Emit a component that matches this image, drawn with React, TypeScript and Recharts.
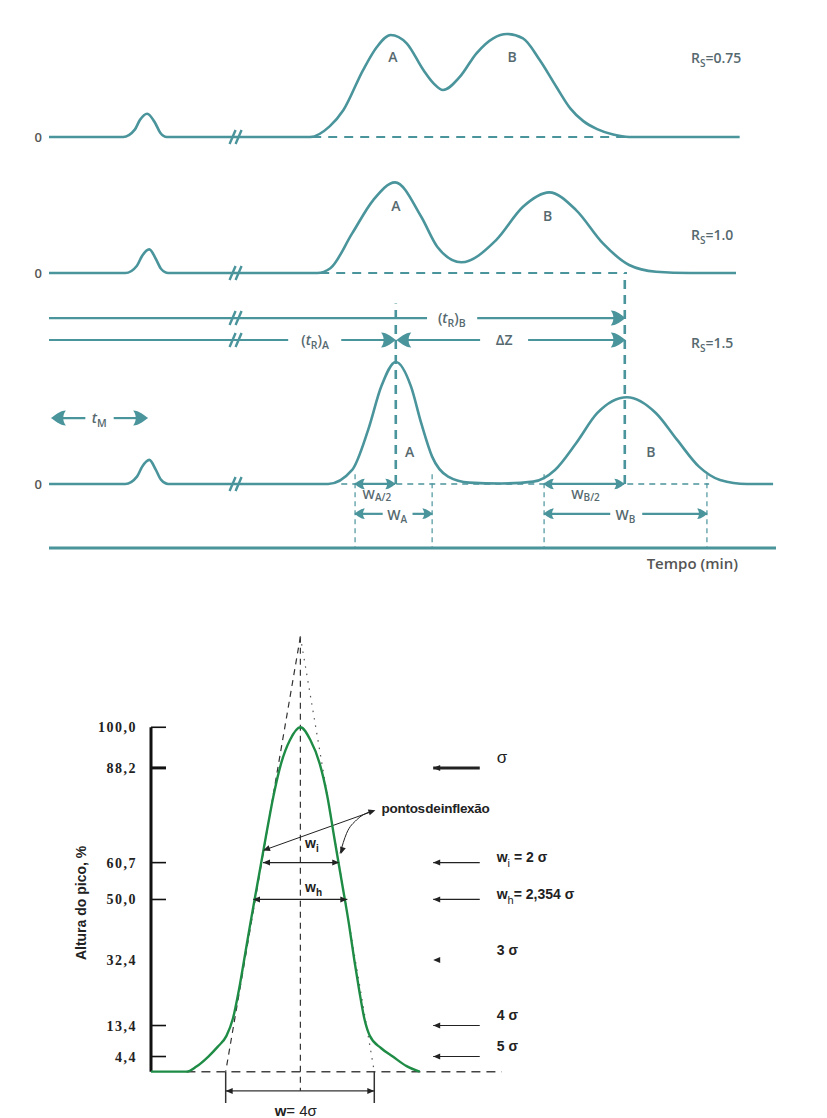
import React from "react";
import { ComposedChart, Line, XAxis, YAxis, ReferenceLine, ReferenceDot } from "recharts";

const TEAL = "#4a949c";
const INK = "#56696f";
const GREEN = "#1f8c46";
const LABEL = "'Open Sans', 'DejaVu Sans', sans-serif";
const SANS = "'Liberation Sans', Arial, sans-serif";
const SERIF = "'Liberation Serif', 'Times New Roman', serif";

// chromatograms: time 0-100 (arbitrary), signal with peak A at Rs=1.5 = 100
const rs075 = [
  { t: 0, h: 0 }, { t: 10.2, h: 0 }, { t: 11.8, h: 6 }, { t: 12.5, h: 13.9 }, { t: 13.5, h: 19.1 },
  { t: 14.6, h: 11.5 }, { t: 15.3, h: 3.5 }, { t: 16.2, h: 0 }, { t: 35.9, h: 0 }, { t: 38.6, h: 8.7 },
  { t: 40.5, h: 22.1 }, { t: 43.2, h: 54.9 }, { t: 45.1, h: 73.8 }, { t: 47.0, h: 83.6 }, { t: 49.2, h: 76.8 },
  { t: 51.5, h: 54.9 }, { t: 52.9, h: 44 }, { t: 54.2, h: 38.5 }, { t: 56.5, h: 49.2 }, { t: 58.8, h: 68.6 },
  { t: 61.1, h: 80.9 }, { t: 63.0, h: 84.4 }, { t: 65.2, h: 80.9 }, { t: 67.5, h: 63.1 }, { t: 69.8, h: 41 },
  { t: 71.7, h: 23.5 }, { t: 73.5, h: 13 }, { t: 75.4, h: 6.5 }, { t: 77.6, h: 2 }, { t: 79.8, h: 0 },
  { t: 95, h: 0 },
];
const rs10 = [
  { t: 0, h: 0 }, { t: 10.5, h: 0 }, { t: 12.1, h: 6 }, { t: 12.8, h: 14 }, { t: 13.8, h: 19.4 },
  { t: 14.7, h: 11.5 }, { t: 15.4, h: 3.5 }, { t: 16.4, h: 0 }, { t: 36.9, h: 0 }, { t: 38.7, h: 3.9 },
  { t: 41.7, h: 32.5 }, { t: 44.6, h: 59.8 }, { t: 47.6, h: 74.3 }, { t: 51.2, h: 46.1 }, { t: 53.4, h: 21.6 },
  { t: 56.7, h: 8.8 }, { t: 61.5, h: 27 }, { t: 65.2, h: 54.3 }, { t: 68.8, h: 66.1 }, { t: 72.5, h: 51.6 },
  { t: 76.2, h: 24.3 }, { t: 79.8, h: 6.6 }, { t: 83.5, h: 1.1 }, { t: 88.2, h: 0 }, { t: 94.5, h: 0 },
];
const rs15 = [
  { t: 0, h: 0 }, { t: 10.5, h: 0 }, { t: 12.1, h: 6 }, { t: 12.8, h: 14 }, { t: 13.8, h: 19.7 },
  { t: 14.7, h: 11.5 }, { t: 15.4, h: 3.5 }, { t: 16.4, h: 0 }, { t: 38.4, h: 0 }, { t: 41.7, h: 11.5 },
  { t: 43.9, h: 44.3 }, { t: 45.7, h: 79.8 }, { t: 47.7, h: 100 }, { t: 49.8, h: 79.8 }, { t: 51.2, h: 49.8 },
  { t: 52.7, h: 22.4 }, { t: 54.9, h: 6 }, { t: 57.8, h: 1.1 }, { t: 62.2, h: 0.4 }, { t: 66.6, h: 1.9 },
  { t: 69.6, h: 11.5 }, { t: 72.5, h: 33.4 }, { t: 75.4, h: 58 }, { t: 79.5, h: 71.1 }, { t: 83.5, h: 58 },
  { t: 86.4, h: 36.1 }, { t: 89.4, h: 14.2 }, { t: 92.3, h: 3.3 }, { t: 96, h: 0 }, { t: 99.6, h: 0 },
];

// retention marks (same time units)
const tM = 13.5;
const tA = 47.7;
const tB = 79.2;
const widthA = [42.1, 52.7];
const widthB = [68.1, 90.5];

// gaussian peak: x in sigma, height in %
const gaussPeak = [
  { s: -3.88, p: 0 }, { s: -2.96, p: 0 }, { s: -2.7, p: 1.5 }, { s: -2.39, p: 4.4 }, { s: -2.15, p: 7.2 },
  { s: -1.92, p: 10.4 }, { s: -1.75, p: 15.5 }, { s: -1.6, p: 23.5 }, { s: -1.46, p: 32.5 }, { s: -1.3, p: 43 },
  { s: -1.1, p: 55.5 }, { s: -0.9, p: 68 }, { s: -0.7, p: 80 }, { s: -0.5, p: 89.5 }, { s: -0.27, p: 96.3 },
  { s: 0, p: 100 }, { s: 0.26, p: 96.3 }, { s: 0.5, p: 89.5 }, { s: 0.7, p: 80 }, { s: 0.88, p: 68 },
  { s: 1.07, p: 55.5 }, { s: 1.26, p: 43 }, { s: 1.4, p: 32.5 }, { s: 1.53, p: 23.5 }, { s: 1.66, p: 15.5 },
  { s: 1.8, p: 10.5 }, { s: 2.1, p: 6.8 }, { s: 2.4, p: 4.4 }, { s: 2.76, p: 1.6 }, { s: 3.1, p: 0 },
];
const inflexCurve = [
  { s: 1.03, p: 63.4 }, { s: 1.2, p: 69.2 }, { s: 1.46, p: 73.1 }, { s: 1.81, p: 75.5 },
];
const pctTicks = [100, 88.2, 60.7, 50, 32.4, 13.4, 4.4];
const sigmaLevels = [88.2, 60.7, 50, 13.4, 4.4];
const sigmaNotes = [
  { p: 88.2, w: "", sub: "", rest: "σ" },
  { p: 60.7, w: "w", sub: "i", rest: " = 2 σ" },
  { p: 50, w: "w", sub: "h", rest: "= 2,354 σ" },
  { p: 32.4, w: "", sub: "", rest: "3 σ" },
  { p: 13.4, w: "", sub: "", rest: "4 σ" },
  { p: 4.4, w: "", sub: "", rest: "5 σ" },
];

type P = { x: number; y: number };
type Draw = (cx: number, cy: number) => React.ReactNode;

function seg(key: string, a: P, b: P, axis: string | number, stroke: string, w: number, dash?: string) {
  return (
    <ReferenceLine key={key} yAxisId={axis} segment={[a, b]} stroke={stroke} strokeWidth={w}
      strokeDasharray={dash} ifOverflow="visible" />
  );
}
function mark(key: string, x: number, y: number, axis: string | number, draw: Draw) {
  return (
    <ReferenceDot key={key} x={x} y={y} yAxisId={axis} r={0} ifOverflow="visible"
      shape={(p: any) => <g>{draw(p.cx, p.cy)}</g>} />
  );
}
const tealHead = (angle: number, s = 1): Draw => (cx, cy) => (
  <path transform={`translate(${cx},${cy}) rotate(${angle}) scale(${s})`}
    d="M1,0 C-3,-2.5 -8,-7.5 -14,-7.5 C-10.5,-3 -10.5,3 -14,7.5 C-8,7.5 -3,2.5 1,0 Z" fill={TEAL} />
);
const blackHead = (angle: number): Draw => (cx, cy) => (
  <path transform={`translate(${cx},${cy}) rotate(${angle})`} d="M0,0 L-7,-3 L-7,3 Z" fill="#222" />
);
const breakMark: Draw = (cx, cy) => (
  <path d={`M${cx - 7},${cy + 7} L${cx - 1},${cy - 7} M${cx - 1},${cy + 7} L${cx + 5},${cy - 7}`}
    stroke={TEAL} strokeWidth={2.4} fill="none" />
);
const tt = (node: React.ReactNode, anchor: "start" | "middle" | "end" = "middle", size = 14, fill = INK): Draw =>
  (cx, cy) => (
    <text x={cx} y={cy} dy={size * 0.35} textAnchor={anchor} fontFamily={LABEL} fontWeight={600}
      fontSize={size} fill={fill}>
      {node}
    </text>
  );
const sub = (main: string, s: string, after = "", drop = 4) => (
  <>
    <tspan>{main}</tspan>
    <tspan dy={drop} fontSize={10}>{s}</tspan>
    {after ? <tspan dy={-drop}>{after}</tspan> : null}
  </>
);
const tR = (peak: string) => (
  <>
    <tspan>(</tspan>
    <tspan fontStyle="italic">t</tspan>
    <tspan dy={4} fontSize={10.5}>R</tspan>
    <tspan dy={-4}>)</tspan>
    <tspan dy={4} fontSize={10.5}>{peak}</tspan>
  </>
);

const PctTick = (props: any) => {
  const { x, y, payload } = props;
  const v = payload.value as number;
  const w = v === 88.2 ? 3 : 1.6;
  return (
    <g>
      {v !== 32.4 && <line x1={x} x2={x + 15} y1={y} y2={y} stroke="#111" strokeWidth={w} />}
      <text x={x - 14} y={y} dy={5} textAnchor="end" fontFamily={SERIF} fontWeight="bold"
        fontSize={14} letterSpacing={1.5} fill="#222">
        {v.toFixed(1).replace(".", ",")}
      </text>
    </g>
  );
};

const zeroLabel = tt("0", "middle", 13, "#555");

const Chromatograms = () => (
  <ComposedChart width={827} height={600} margin={{ top: 15, right: 51, bottom: 22, left: 49 }}>
    <XAxis type="number" dataKey="t" domain={[0, 100]} allowDataOverflow tick={false} tickLine={false}
      height={30} axisLine={{ stroke: TEAL, strokeWidth: 3 }}
      label={{
        content: (p: any) => (
          <text x={p.viewBox.x + p.viewBox.width - 38} y={p.viewBox.y + 21} textAnchor="end"
            fontFamily={LABEL} fontSize={15} fontWeight={600} fill="#555">
            Tempo (min)
          </text>
        ),
      }} />
    <YAxis yAxisId="rs075" type="number" domain={[-336.9, 100]} allowDataOverflow width={0}
      tick={false} tickLine={false} axisLine={{ stroke: TEAL, strokeWidth: 3 }} />
    <YAxis yAxisId="rs10" type="number" domain={[-225.4, 211.5]} allowDataOverflow width={0}
      tick={false} tickLine={false} axisLine={false} />
    <YAxis yAxisId="rs15" type="number" domain={[-52.5, 384.4]} allowDataOverflow width={0}
      tick={false} tickLine={false} axisLine={false} />

    {mark("z1", -1.5, 0, "rs075", zeroLabel)}
    {mark("z2", -1.5, 0, "rs10", zeroLabel)}
    {mark("z3", -1.5, 0, "rs15", zeroLabel)}

    {seg("b1", { x: 29.6, y: 0 }, { x: 79.8, y: 0 }, "rs075", TEAL, 2, "9 7")}
    {seg("b2", { x: 28.5, y: 0 }, { x: 79.5, y: 0 }, "rs10", TEAL, 2, "9 7")}
    {seg("b3", { x: 40.2, y: 0 }, { x: 90.8, y: 0 }, "rs15", TEAL, 1.5, "6 5")}
    {seg("va", { x: tA, y: 0 }, { x: tA, y: 148 }, "rs15", TEAL, 2.6, "9 6")}
    {seg("vb", { x: tB, y: 0 }, { x: tB, y: 173 }, "rs15", TEAL, 2.6, "9 6")}
    {[...widthA, ...widthB].map((t, i) => seg(`wv${i}`, { x: t, y: 8 }, { x: t, y: -52.5 }, "rs15", TEAL, 1.2, "5 4"))}

    {seg("trb1", { x: 0, y: 136 }, { x: 52, y: 136 }, "rs15", TEAL, 2.2)}
    {seg("trb2", { x: 58.9, y: 136 }, { x: tB - 1, y: 136 }, "rs15", TEAL, 2.2)}
    {mark("trbh", tB, 136, "rs15", tealHead(0))}
    {mark("trbl", 55.4, 136, "rs15", tt(tR("B"), "middle", 14))}
    {seg("tra1", { x: 0, y: 118 }, { x: 32.9, y: 118 }, "rs15", TEAL, 2.2)}
    {seg("tra2", { x: 40.2, y: 118 }, { x: tA - 1, y: 118 }, "rs15", TEAL, 2.2)}
    {mark("trah", tA - 0.1, 118, "rs15", tealHead(0))}
    {mark("tral", 36.6, 118, "rs15", tt(tR("A"), "middle", 14))}
    {seg("dz1", { x: tA + 1, y: 118 }, { x: 59.3, y: 118 }, "rs15", TEAL, 2.2)}
    {seg("dz2", { x: 65.9, y: 118 }, { x: tB - 1, y: 118 }, "rs15", TEAL, 2.2)}
    {mark("dzh1", tA + 0.2, 118, "rs15", tealHead(180))}
    {mark("dzh2", tB, 118, "rs15", tealHead(0))}
    {mark("dzl", 62.6, 118, "rs15", tt("ΔZ", "middle", 14))}
    {seg("tm1", { x: 0.6, y: 54 }, { x: 5, y: 54 }, "rs15", TEAL, 2.2)}
    {seg("tm2", { x: 8.9, y: 54 }, { x: tM - 1, y: 54 }, "rs15", TEAL, 2.2)}
    {mark("tmh1", 0.4, 54, "rs15", tealHead(180))}
    {mark("tmh2", tM, 54, "rs15", tealHead(0))}
    {mark("tml", 6.9, 54, "rs15", tt(<>
      <tspan fontStyle="italic">t</tspan>
      <tspan dy={4} fontSize={10.5}>M</tspan>
    </>, "middle", 14))}

    {seg("wa2", { x: widthA[0], y: 0 }, { x: tA - 0.1, y: 0 }, "rs15", TEAL, 2.2)}
    {mark("wa2h1", widthA[0], 0, "rs15", tealHead(180, 0.7))}
    {mark("wa2h2", tA - 0.1, 0, "rs15", tealHead(0, 0.7))}
    {mark("wa2l", 45.1, -8.6, "rs15", tt(sub("W", "A/2", "", 2.5), "middle", 13))}
    {seg("wa1", { x: widthA[0], y: -24.5 }, { x: 45.9, y: -24.5 }, "rs15", TEAL, 2.2)}
    {seg("wa1b", { x: 50, y: -24.5 }, { x: widthA[1], y: -24.5 }, "rs15", TEAL, 2.2)}
    {mark("wah1", widthA[0], -24.5, "rs15", tealHead(180, 0.7))}
    {mark("wah2", widthA[1], -24.5, "rs15", tealHead(0, 0.7))}
    {mark("wal", 47.9, -25.5, "rs15", tt(sub("W", "A", "", 3), "middle", 14))}
    {seg("wb2", { x: widthB[0], y: 0 }, { x: tB - 0.1, y: 0 }, "rs15", TEAL, 2.2)}
    {mark("wb2h1", widthB[0], 0, "rs15", tealHead(180, 0.7))}
    {mark("wb2h2", tB - 0.1, 0, "rs15", tealHead(0, 0.7))}
    {mark("wb2l", 73.8, -8.2, "rs15", tt(sub("W", "B/2", "", 2.5), "middle", 13))}
    {seg("wb1", { x: widthB[0], y: -24.5 }, { x: 77.2, y: -24.5 }, "rs15", TEAL, 2.2)}
    {seg("wb1b", { x: 81.6, y: -24.5 }, { x: widthB[1], y: -24.5 }, "rs15", TEAL, 2.2)}
    {mark("wbh1", widthB[0], -24.5, "rs15", tealHead(180, 0.7))}
    {mark("wbh2", widthB[1], -24.5, "rs15", tealHead(0, 0.7))}
    {mark("wbl", 79.3, -25.5, "rs15", tt(sub("W", "B", "", 3), "middle", 14))}

    {mark("br1", 25.8, 0, "rs075", breakMark)}
    {mark("br2", 25.8, 0, "rs10", breakMark)}
    {mark("br3", 25.8, 0, "rs15", breakMark)}
    {mark("br4", 25.8, 136, "rs15", breakMark)}
    {mark("br5", 25.8, 118, "rs15", breakMark)}

    {mark("a1", 47.3, 65.6, "rs075", tt("A"))}
    {mark("b1l", 63.7, 65.6, "rs075", tt("B"))}
    {mark("r1", 88.3, 64.8, "rs075", tt(sub("R", "S", "=0.75"), "start", 14))}
    {mark("a2", 47.7, 54.9, "rs10", tt("A"))}
    {mark("b2l", 68.6, 46.7, "rs10", tt("B"))}
    {mark("r2", 88.3, 31.1, "rs10", tt(sub("R", "S", "=1.0"), "start", 14))}
    {mark("a3", 49.6, 26.5, "rs15", tt("A"))}
    {mark("b3l", 82.8, 26.5, "rs15", tt("B"))}
    {mark("r3", 88.3, 115.3, "rs15", tt(sub("R", "S", "=1.5"), "start", 14))}

    <Line yAxisId="rs075" data={rs075} dataKey="h" type="monotone" stroke={TEAL} strokeWidth={2.6}
      dot={false} isAnimationActive={false} />
    <Line yAxisId="rs10" data={rs10} dataKey="h" type="monotone" stroke={TEAL} strokeWidth={2.6}
      dot={false} isAnimationActive={false} />
    <Line yAxisId="rs15" data={rs15} dataKey="h" type="monotone" stroke={TEAL} strokeWidth={2.6}
      dot={false} isAnimationActive={false} />
  </ComposedChart>
);

const bt = (node: React.ReactNode, anchor: "start" | "middle" | "end" = "start", size = 14, weight = "normal"): Draw =>
  (cx, cy) => (
    <text x={cx} y={cy} dy={size * 0.35} textAnchor={anchor} fontFamily={SANS} fontSize={size}
      fontWeight={weight} fill="#222">
      {node}
    </text>
  );

const GaussPeak = () => (
  <ComposedChart width={827} height={498} margin={{ top: 16.7, right: 230.2, bottom: 1.9, left: 0 }}>
    <XAxis type="number" dataKey="s" domain={[-3.88, 7.7]} allowDataOverflow hide />
    <YAxis type="number" domain={[-12.9, 126.3]} allowDataOverflow ticks={pctTicks} interval={0} width={151}
      tickSize={0} tickMargin={0} tickLine={false} axisLine={false} tick={<PctTick />} />

    {seg("base", { x: -2.96, y: 0 }, { x: 5.23, y: 0 }, 0, "#444", 1.5, "9 6")}
    {seg("yax", { x: -3.88, y: 0 }, { x: -3.88, y: 100 }, 0, "#111", 3)}
    {seg("mid", { x: 0, y: 126.3 }, { x: 0, y: -5.6 }, 0, "#333", 1.2, "6 5")}
    {seg("tanL", { x: 0, y: 126.3 }, { x: -1.94, y: 0 }, 0, "#333", 1.2, "6 5")}
    {seg("tanR", { x: 0, y: 126.3 }, { x: 1.92, y: 0 }, 0, "#555", 1.2, "1.5 6")}
    {seg("wl", { x: -1.94, y: 0 }, { x: -1.94, y: -9.1 }, 0, "#333", 1.5)}
    {seg("wr", { x: 1.92, y: 0 }, { x: 1.92, y: -9.1 }, 0, "#333", 1.5)}
    {seg("w", { x: -1.94, y: -5.6 }, { x: 1.92, y: -5.6 }, 0, "#333", 1.2)}
    {mark("wh1", -1.94, -5.6, 0, blackHead(180))}
    {mark("wh2", 1.92, -5.6, 0, blackHead(0))}
    {mark("wlab", -0.12, -11.3, 0, bt(<>
      <tspan fontWeight="bold">w</tspan><tspan>= 4σ</tspan>
    </>, "middle", 15))}

    {seg("wi", { x: -0.97, y: 60.7 }, { x: 1.01, y: 60.7 }, 0, "#222", 1.2)}
    {mark("wih1", -0.97, 60.7, 0, blackHead(180))}
    {mark("wih2", 1.01, 60.7, 0, blackHead(0))}
    {mark("wil", 0.12, 66.5, 0, bt(sub("w", "i"), "start", 14, "bold"))}
    {seg("whs", { x: -1.23, y: 50 }, { x: 1.22, y: 50 }, 0, "#222", 1.2)}
    {mark("whh1", -1.23, 50, 0, blackHead(180))}
    {mark("whh2", 1.22, 50, 0, blackHead(0))}
    {mark("whl", 0.12, 53.6, 0, bt(sub("w", "h"), "start", 14, "bold"))}

    {seg("inf", { x: 1.85, y: 75.5 }, { x: -0.95, y: 64.3 }, 0, "#222", 1)}
    {mark("infh1", -0.97, 64.2, 0, blackHead(160))}
    {mark("infh2", 1.05, 63.2, 0, blackHead(108))}
    {mark("infh3", 1.95, 75.9, 0, blackHead(-18))}
    {mark("infl", 2.11, 76.5, 0, (cx, cy) => (
      <text x={cx} y={cy} dy={5} fontFamily={SANS} fontWeight="bold" fontSize={13.5} wordSpacing={-3}
        letterSpacing={-0.3} fill="#222">pontos de inflexão</text>
    ))}

    {sigmaLevels.map((p) => seg(`sa${p}`, { x: 3.45, y: p }, { x: 4.66, y: p }, 0, "#222", p === 88.2 ? 3 : 1.2))}
    {[...sigmaLevels, 32.4].map((p) => mark(`sh${p}`, 3.45, p, 0, blackHead(180)))}
    {sigmaNotes.map((n) => mark(`sn${n.p}`, 5.1, n.p + 1.5, 0, bt(<>
      {n.w ? <tspan fontWeight="bold">{n.w}</tspan> : null}
      {n.sub ? <tspan dy={5} fontSize={11}>{n.sub}</tspan> : null}
      <tspan dy={n.sub ? -5 : 0} fontWeight={n.rest === "σ" ? "normal" : "bold"}>{n.rest}</tspan>
    </>, "start", n.rest === "σ" ? 17 : 14)))}

    {mark("ylab", -5.7, 49, 0, (cx, cy) => (
      <text x={cx} y={cy} transform={`rotate(-90 ${cx} ${cy})`} textAnchor="middle" dy={5}
        fontFamily={SANS} fontWeight="bold" fontSize={14} fill="#222">Altura do pico, %</text>
    ))}

    <Line data={gaussPeak} dataKey="p" type="monotone" stroke={GREEN} strokeWidth={2.4} dot={false}
      isAnimationActive={false} />
    <Line data={inflexCurve} dataKey="p" type="monotone" stroke="#222" strokeWidth={1} dot={false}
      isAnimationActive={false} />
  </ComposedChart>
);

export default function App() {
  return (
    <div style={{ position: "absolute", left: 0, top: 0, width: 827, height: 1118, background: "#fff" }}>
      <div style={{ position: "absolute", left: 0, top: 0 }}>
        <Chromatograms />
      </div>
      <div style={{ position: "absolute", left: 0, top: 620 }}>
        <GaussPeak />
      </div>
    </div>
  );
}
